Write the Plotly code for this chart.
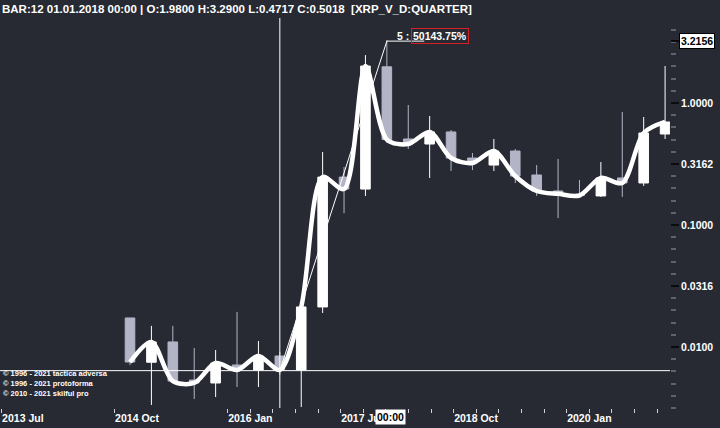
import math
import plotly.graph_objects as go

# ---------------- data ----------------
quarters = ["2015 Q1", "2015 Q2", "2015 Q3", "2015 Q4", "2016 Q1", "2016 Q2", "2016 Q3", "2016 Q4",
            "2017 Q1", "2017 Q2", "2017 Q3", "2017 Q4", "2018 Q1", "2018 Q2", "2018 Q3", "2018 Q4",
            "2019 Q1", "2019 Q2", "2019 Q3", "2019 Q4", "2020 Q1", "2020 Q2", "2020 Q3", "2020 Q4",
            "2021 Q1", "2021 Q2"]
opens = [0.0173, 0.0075, 0.0110, 0.00536, 0.00507, 0.00712, 0.00648, 0.00844, 0.00648, 0.0213,
         0.247, 0.197, 1.98, 0.507, 0.461, 0.579, 0.354, 0.310, 0.404, 0.257,
         0.190, 0.178, 0.173, 0.243, 0.221, 0.557]
highs = [0.0173, 0.0149, 0.0149, 0.00981, 0.00945, 0.0194, 0.0112, 0.0091, 0.0213, 0.397,
         0.299, 2.47, 3.29, 0.963, 0.782, 0.601, 0.389, 0.507, 0.420, 0.310,
         0.348, 0.234, 0.328, 0.844, 0.768, 2.01]
lows = [0.0071, 0.00335, 0.00526, 0.00375, 0.00389, 0.0047, 0.0047, 0.0059, 0.00322, 0.0190,
        0.125, 0.173, 0.4717, 0.420, 0.243, 0.277, 0.282, 0.277, 0.221, 0.173,
        0.114, 0.170, 0.170, 0.170, 0.209, 0.507]
closes = [0.00753, 0.0110, 0.00526, 0.00507, 0.00739, 0.00648, 0.00844, 0.00648, 0.0213, 0.247,
          0.197, 2.01, 0.5018, 0.461, 0.579, 0.354, 0.322, 0.404, 0.252, 0.190,
          0.180, 0.1745, 0.243, 0.221, 0.568, 0.699]

x_tick_labels = ["2013 Jul", "2014 Oct", "2016 Jan", "2017 Jul", "2018 Oct", "2020 Jan"]
y_tick_vals = [0.01, 0.0316, 0.1, 0.3162, 1.0, 3.2156]
y_tick_text = ["0.0100", "0.0316", "0.1000", "0.3162", "1.0000", ""]

header_text = "BAR:12 01.01.2018 00:00 | O:1.9800 H:3.2900 L:0.4717 C:0.5018  [XRP_V_D:QUARTER]"
cursor_bar = 7
cursor_value = 0.0064
measure_end_bar = 12
measure_end_value = 3.2156
measure_bars_text = "5 :"
measure_pct_text = "50143.75%"
cursor_time_text = "00:00"
copyright_lines = ["© 1996 - 2021 tactica adversa", "© 1996 - 2021 protoforma", "© 2010 - 2021 skilful pro"]

# ---------------- style ----------------
BG = "#272a33"
UP = "#ffffff"
DOWN = "#b3b5c7"
FONT = "Liberation Sans"

bars = list(range(len(quarters)))
x_range = [-6.075, 25.23]
y_range = [-2.5, 0.6967]

# axis tick geometry (x labels every 5 quarter ticks)
q_step = 1.0561
label_pos = [-6.0 + 5 * k * q_step for k in range(len(x_tick_labels))]
quarter_ticks = [label_pos[1] + n * q_step for n in range(0, 25) if n == 0 or n >= 5]
minor_y = [10 ** (k / 10) for k in range(-25, 7)]

fig = go.Figure()

fig.add_trace(go.Candlestick(
    x=bars, open=opens, high=highs, low=lows, close=closes,
    increasing=dict(line=dict(color=UP, width=1), fillcolor=UP),
    decreasing=dict(line=dict(color=DOWN, width=1), fillcolor=DOWN),
    whiskerwidth=0, showlegend=False, hoverinfo="skip"))

fig.add_trace(go.Scatter(
    x=bars, y=closes, mode="lines",
    line=dict(color="#ffffff", width=4.5, shape="spline", smoothing=0.85),
    showlegend=False, hoverinfo="skip"))

# crosshair
fig.add_trace(go.Scatter(x=[cursor_bar, cursor_bar], y=[10 ** y_range[0], 10 ** (y_range[1] + 0.04)],
                         mode="lines", line=dict(color="#ffffff", width=1), showlegend=False,
                         hoverinfo="skip", cliponaxis=False))
fig.add_trace(go.Scatter(x=x_range, y=[cursor_value, cursor_value], mode="lines",
                         line=dict(color="#ffffff", width=1), showlegend=False, hoverinfo="skip"))

# measurement tool
fig.add_trace(go.Scatter(x=[cursor_bar, measure_end_bar, measure_end_bar + 1.75],
                         y=[cursor_value, measure_end_value, measure_end_value], mode="lines",
                         line=dict(color="#ffffff", width=1), showlegend=False, hoverinfo="skip"))

ann_y = math.log10(measure_end_value) + 0.045
annotations = [
    dict(xref="paper", yref="paper", x=0, y=1, xanchor="left", yanchor="bottom", xshift=0, yshift=1,
         text=header_text, showarrow=False, font=dict(family=FONT, size=11.5, color="white", weight="bold")),
    dict(xref="x", yref="y", x=measure_end_bar, y=ann_y, xanchor="left", yanchor="middle", xshift=8,
         text=measure_bars_text, showarrow=False, font=dict(family=FONT, size=10.5, color="white", weight="bold")),
    dict(xref="x", yref="y", x=measure_end_bar, y=ann_y, xanchor="left", yanchor="middle", xshift=24,
         text=measure_pct_text, showarrow=False, bordercolor="#d42020", borderwidth=1, borderpad=1,
         font=dict(family=FONT, size=10.5, color="white", weight="bold")),
    dict(xref="paper", yref="y", x=1, y=math.log10(measure_end_value), xanchor="left", yanchor="middle",
         xshift=9, text=f"{measure_end_value:.4f}", showarrow=False, bgcolor="white",
         bordercolor="#000000", borderwidth=1, borderpad=1,
         font=dict(family=FONT, size=10.5, color="black", weight="bold")),
    dict(xref="x", yref="paper", x=measure_end_bar, y=0, xanchor="center", yanchor="top", xshift=4, yshift=-1,
         text=cursor_time_text, showarrow=False, bgcolor="white", borderpad=1,
         font=dict(family=FONT, size=10.5, color="black", weight="bold")),
    dict(xref="paper", yref="paper", x=0, y=0, xanchor="left", yanchor="bottom", xshift=1, yshift=8,
         text="<br>".join(copyright_lines), align="left", showarrow=False,
         font=dict(family=FONT, size=7.5, color="white", weight="bold")),
]

fig.update_layout(
    width=720, height=428,
    margin=dict(l=0, r=50, t=18, b=20),
    paper_bgcolor=BG, plot_bgcolor=BG,
    showlegend=False, hovermode=False,
    boxgap=0.36,
    annotations=annotations,
    xaxis=dict(
        type="linear", range=x_range, rangeslider=dict(visible=False),
        showgrid=False, zeroline=False, showline=False,
        tickmode="array", tickvals=label_pos, ticktext=x_tick_labels,
        ticks="outside", ticklen=4, tickcolor="#cfd0d6", tickwidth=1,
        ticklabelposition="outside right",
        tickfont=dict(family=FONT, size=10.5, color="white", weight="bold"),
        minor=dict(tickmode="array", tickvals=quarter_ticks, ticks="outside", ticklen=4,
                   tickcolor="#cfd0d6", showgrid=False),
    ),
    yaxis=dict(
        type="log", range=y_range, side="right",
        showgrid=False, zeroline=False, showline=False,
        tickmode="array", tickvals=y_tick_vals, ticktext=y_tick_text,
        ticks="outside", ticklen=8, tickcolor="#0b0c10", tickwidth=1.5,
        tickfont=dict(family=FONT, size=10.5, color="white", weight="bold"),
        minor=dict(tickmode="array", tickvals=minor_y, ticks="outside", ticklen=5,
                   tickcolor="#5f626d", showgrid=False),
    ),
)

fig.write_html("out.html", config={"displayModeBar": False},
               post_script="document.body.style.margin='0';document.body.style.background='" + BG + "';")
